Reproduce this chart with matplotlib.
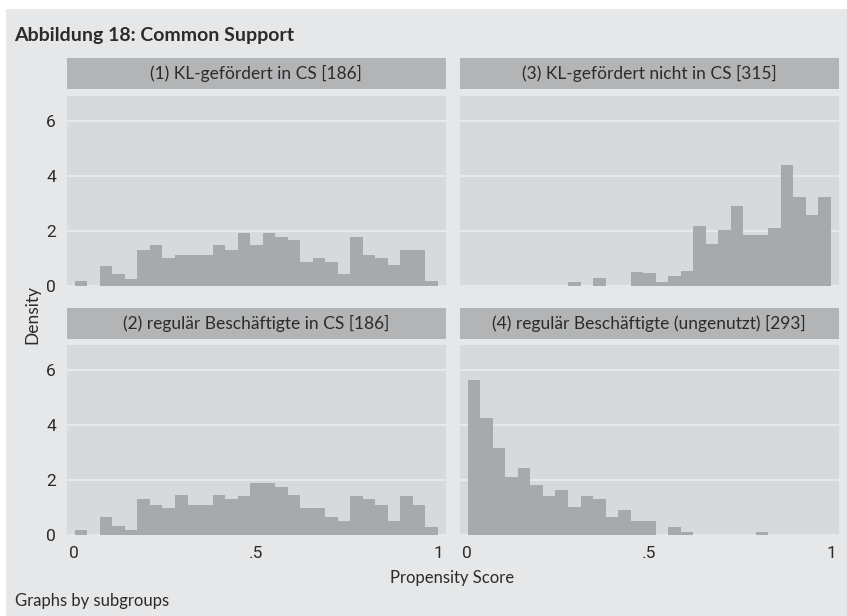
import numpy as np
import matplotlib
matplotlib.use("Agg")
import matplotlib.pyplot as plt

plt.rcParams['font.family'] = ['Lato', 'DejaVu Sans']

# ---- data (densities per bin, 29 bins over the propensity score range) ----
bin_start = 0.0015
bin_width = 0.0344

titles = [
    "(1) KL-gefördert in CS [186]",
    "(3) KL-gefördert nicht in CS [315]",
    "(2) regulär Beschäftigte in CS [186]",
    "(4) regulär Beschäftigte (ungenutzt) [293]",
]

dens_1 = [0.2, 0.0, 0.72, 0.43, 0.25, 1.33, 1.48, 1.02, 1.12, 1.12, 1.12, 1.48, 1.33, 1.92,
          1.48, 1.92, 1.77, 1.66, 0.87, 1.02, 0.87, 0.43, 1.77, 1.12, 1.02, 0.76, 1.33, 1.33, 0.2]
dens_3 = [0, 0, 0, 0, 0, 0, 0, 0, 0.15, 0.0, 0.3, 0, 0, 0.51, 0.47, 0.15, 0.38, 0.55,
          2.2, 1.52, 2.03, 2.93, 1.86, 1.86, 2.1, 4.4, 3.25, 2.6, 3.25]
dens_2 = [0.18, 0.0, 0.66, 0.33, 0.18, 1.31, 1.09, 0.98, 1.46, 1.09, 1.09, 1.46, 1.31, 1.42,
          1.9, 1.9, 1.75, 1.46, 0.98, 0.98, 0.66, 0.51, 1.42, 1.31, 1.09, 0.51, 1.42, 1.09, 0.29]
dens_4 = [5.65, 4.28, 3.19, 2.1, 2.46, 1.82, 1.42, 1.64, 1.02, 1.42, 1.31, 0.66, 0.91, 0.51,
          0.51, 0.0, 0.29, 0.12, 0, 0, 0, 0, 0, 0.12, 0, 0, 0, 0, 0]

series = [dens_1, dens_3, dens_2, dens_4]

x_ticks = [0, 0.5, 1]
x_ticklabels = ["0", ".5", "1"]
y_ticks = [0, 2, 4, 6]
y_ticklabels = ["0", "2", "4", "6"]

# ---- styling ----
W, H = 847, 616
outer_bg = "#e6e7e9"
plot_bg = "#d8d9db"
bar_col = "#a8a9ac"
strip_col = "#b3b4b6"
grid_col = "#e8e9ea"
txt_col = "#2b2b2b"

fig = plt.figure(figsize=(W / 100, H / 100), dpi=100)
fig.patch.set_facecolor("white")

# outer gray panel with white border top/left
bg = fig.add_axes([6 / W, 0, 1 - 6 / W, 1 - 9 / H])
bg.set_facecolor(outer_bg)
bg.set_xticks([]); bg.set_yticks([])
for s in bg.spines.values():
    s.set_visible(False)
bg.set_zorder(-10)


def px_rect(x0, y0, x1, y1):
    return [x0 / W, 1 - y1 / H, (x1 - x0) / W, (y1 - y0) / H]


cols = [(67, 445.5), (460, 838.5)]
rows_plot = [(96, 286), (345, 535)]
rows_strip = [(58, 89), (308, 339)]

edges = bin_start + bin_width * np.arange(len(dens_1))

for i, dens in enumerate(series):
    r, c = divmod(i, 2)
    x0, x1 = cols[c]
    y0, y1 = rows_plot[r]
    ax = fig.add_axes(px_rect(x0, y0, x1, y1))
    ax.set_facecolor(plot_bg)
    ax.bar(edges, dens, width=bin_width, align="edge", color=bar_col,
           edgecolor="none", linewidth=0, zorder=3)
    ax.set_xlim(-0.02, 1.02)
    ax.set_ylim(0.03, 6.93)
    ax.set_yticks(y_ticks)
    ax.set_xticks(x_ticks)
    ax.grid(axis="y", color=grid_col, linewidth=1.4, zorder=1)
    ax.set_axisbelow(True)
    for s in ax.spines.values():
        s.set_visible(False)
    ax.tick_params(length=0, colors=txt_col, labelsize=12.5, pad=8)
    if c == 0:
        ax.set_yticklabels(y_ticklabels, family=["Roboto", "DejaVu Sans"])
    else:
        ax.set_yticklabels([])
    if r == 1:
        ax.set_xticklabels(x_ticklabels, family=["Roboto", "DejaVu Sans"])
    else:
        ax.set_xticklabels([])

    sy0, sy1 = rows_strip[r]
    sax = fig.add_axes(px_rect(x0, sy0, x1, sy1))
    sax.set_facecolor(strip_col)
    sax.set_xticks([]); sax.set_yticks([])
    for s in sax.spines.values():
        s.set_visible(False)
    sax.text(0.5, 0.5, titles[i], ha="center", va="center", fontsize=12.5,
             color=txt_col, transform=sax.transAxes)

fig.text(14 / W, 1 - 35 / H, "Abbildung 18: Common Support", fontsize=14,
         fontweight="bold", color=txt_col, ha="left", va="center")
fig.text(32 / W, 1 - 315 / H, "Density", rotation=90, fontsize=12.5,
         color=txt_col, ha="center", va="center")
fig.text(452 / W, 1 - 578 / H, "Propensity Score", fontsize=12,
         color=txt_col, ha="center", va="center")
fig.text(15 / W, 1 - 601 / H, "Graphs by subgroups", fontsize=12,
         color=txt_col, ha="left", va="center")

fig.savefig("out.png", dpi=100, facecolor=fig.get_facecolor())
